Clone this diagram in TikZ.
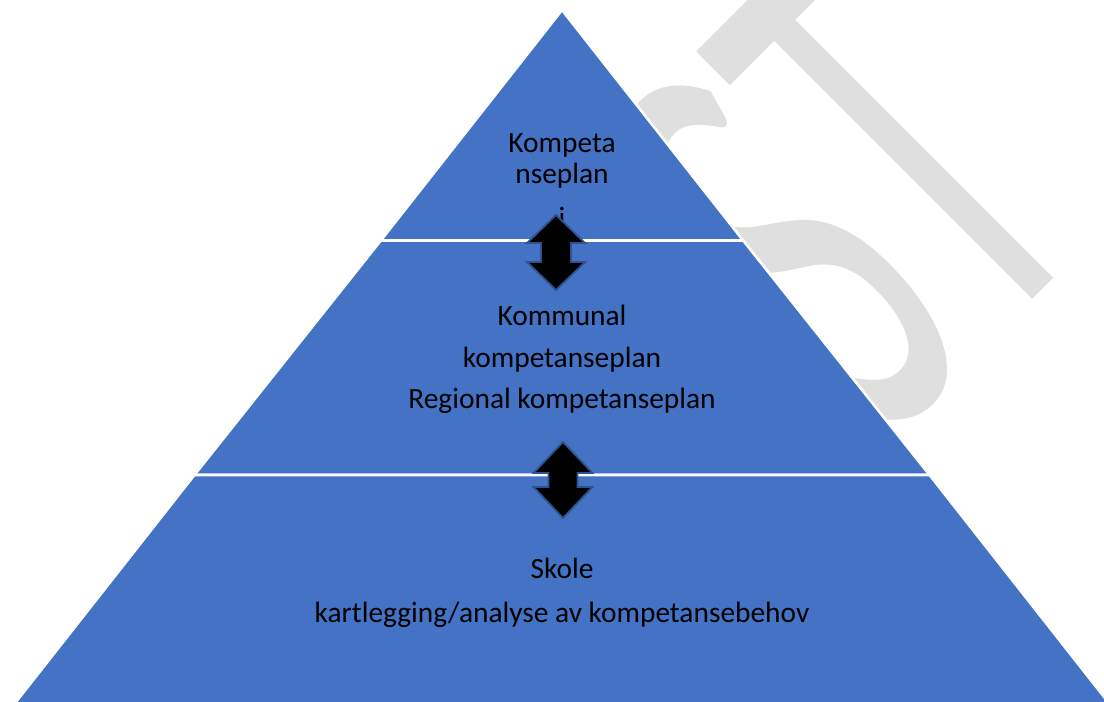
\documentclass[tikz,border=0pt]{standalone}
\usepackage{fontspec}
\setmainfont{Carlito}
\usepackage{graphicx}
\definecolor{pyrblue}{HTML}{4472C4}
\definecolor{arrowedge}{HTML}{2F528F}
\definecolor{wmgray}{HTML}{DFDFDF}
\begin{document}
\begin{tikzpicture}[x=1pt,y=-1pt,
  tier/.style={fill=pyrblue, draw=white, line width=2.6pt, line join=miter},
  lbl/.style={anchor=base, inner sep=0pt, font=\fontsize{29.4}{35}\selectfont, text=black},
  dblarrow/.style={fill=black, draw=arrowedge, line width=1.8pt, line join=miter},
  pics/updown/.style n args={4}{code={%
    % #1 half length, #2 head half width, #3 shaft half width, #4 head length
    \path[dblarrow] (0,-#1) -- (#2,-#1+#4) -- (#3,-#1+#4) -- (#3,#1-#4) -- (#2,#1-#4)
      -- (0,#1) -- (-#2,#1-#4) -- (-#3,#1-#4) -- (-#3,-#1+#4) -- (-#2,-#1+#4) -- cycle;
  }}
]
\useasboundingbox (0,0) rectangle (1104,702);
\clip (0,0) rectangle (1104,702);
\fill[white] (0,0) rectangle (1104,702);

% watermark behind the pyramid (only its last letters are visible)
\node[rotate=45, anchor=base east, inner sep=0pt, text=wmgray] (wm) at (1101,231)
  {\scalebox{0.52}[1]{\fontsize{643}{643}\selectfont ST}};

% pyramid tiers (white outlines form the separating lines)
\filldraw[tier] (562,10) -- (743.2,240.5) -- (380.8,240.5) -- cycle;
\filldraw[tier] (380.8,240.5) -- (743.2,240.5) -- (929.6,475) -- (194.4,475) -- cycle;
\filldraw[tier] (194.4,475) -- (929.6,475) -- (1112,707) -- (12,707) -- cycle;

% texts
\node[lbl] (t1a) at (562,152) {Kompeta};
\node[lbl] (t1b) at (562,183) {nseplan};
\node[lbl] (t1c) at (562,227) {i};
\node[lbl] (t2a) at (562,325) {Kommunal};
\node[lbl] (t2b) at (562,367) {kompetanseplan};
\node[lbl] (t2c) at (562,408) {Regional kompetanseplan};
\node[lbl] (t3a) at (562,578) {Skole};
\node[lbl] (t3b) at (562,622) {kartlegging/analyse av kompetansebehov};

% double arrows
\pic at (556,252.5) {updown={37.5}{29}{15}{28}};
\pic at (563,480) {updown={38}{29.5}{14.5}{31}};
\end{tikzpicture}
\end{document}
